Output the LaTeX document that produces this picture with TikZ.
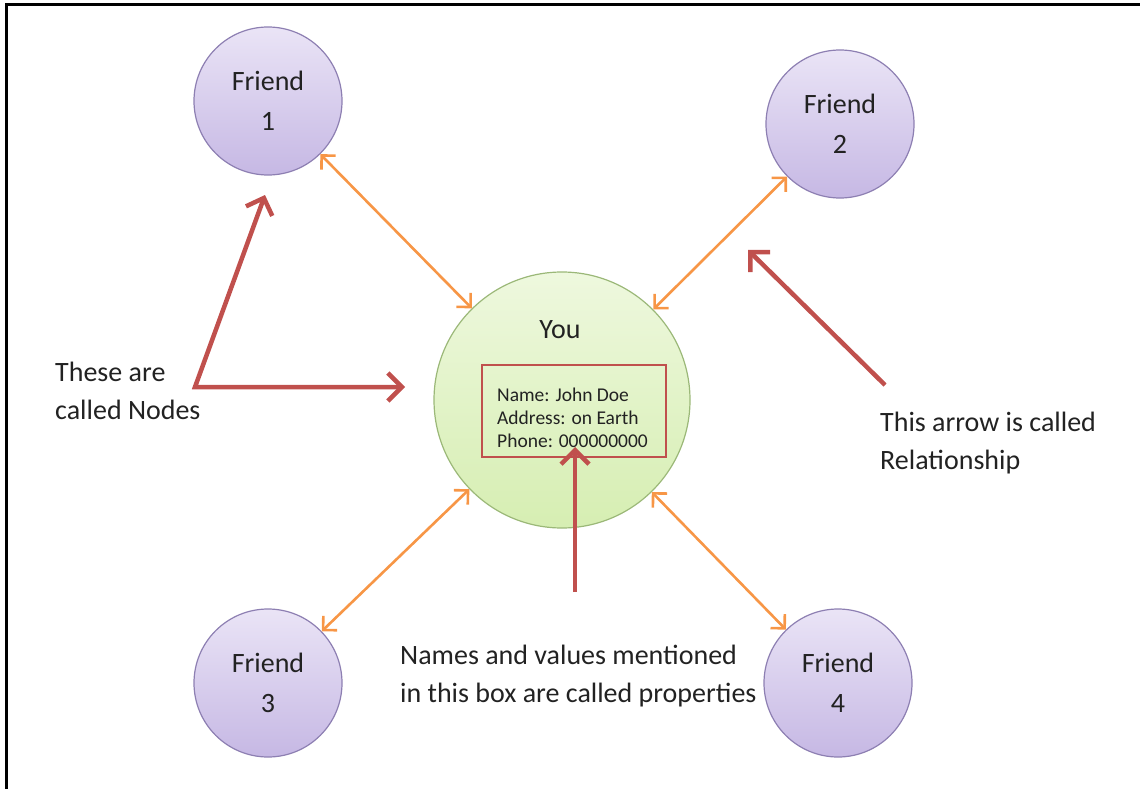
\documentclass[tikz,border=0pt]{standalone}
\usepackage{fontspec}
\setmainfont{Carlito}
\usetikzlibrary{arrows.meta}
\definecolor{friendtop}{HTML}{EAE4F6}
\definecolor{friendbot}{HTML}{C6B8E4}
\definecolor{friendline}{HTML}{8D7FB2}
\definecolor{youtop}{HTML}{EEF8DE}
\definecolor{youbot}{HTML}{D6EEB2}
\definecolor{youline}{HTML}{9BB878}
\definecolor{relcolor}{HTML}{F79646}
\definecolor{notecolor}{HTML}{C0504D}
\definecolor{inkcolor}{HTML}{222222}

\tikzset{
  friend/.style={circle,draw=friendline,line width=1.2pt,top color=friendtop,
    bottom color=friendbot,minimum size=148pt,align=center,text=inkcolor,
    font=\fontsize{28}{40}\selectfont},
  rel/.style={draw=relcolor,line width=2.6pt,
    >={Straight Barb[length=10pt,width=20pt]},<->},
  pointer/.style={draw=notecolor,line width=4.5pt,line join=miter,
    >={Straight Barb[length=14pt,width=28pt]}},
  caption/.style={anchor=north west,align=left,inner sep=0pt,text=inkcolor,
    font=\fontsize{28}{38}\selectfont}
}

\begin{document}
\begin{tikzpicture}[x=1pt,y=-1pt]
\useasboundingbox (0,0) rectangle (1140,789);
\draw[line width=3pt] (6,789) -- (6,5) -- (1140,5);

% the person and the friends
\node[circle,draw=youline,line width=1.2pt,top color=youtop,bottom color=youbot,
      minimum size=256pt] (you) at (562,400) {};
\node[text=inkcolor,font=\fontsize{28}{34}\selectfont] (youlbl) at (560,330) {You};
\node[draw=notecolor,line width=2.5pt,minimum width=184pt,minimum height=92pt]
      (propbox) at (574,411) {};
\node[anchor=west,align=left,inner sep=0pt,text=inkcolor,
      font=\fontsize{19.5}{23}\selectfont] (props) at (497,418)
      {Name: John Doe\\Address: on Earth\\Phone: 000000000};

\node[friend] (f1) at (268,101) {Friend\\1};
\node[friend] (f2) at (840,124) {Friend\\2};
\node[friend] (f3) at (268,683) {Friend\\3};
\node[friend] (f4) at (838,683) {Friend\\4};

% relationships
\foreach \f in {f1,f2,f3,f4}
  \draw[rel] (\f) -- (you);

% notes
\coordinate (nodecorner) at (195,387);
\coordinate (nodetip1) at (265,195);
\coordinate (nodetip2) at (405,387);
\coordinate (reltail) at (885,385);
\coordinate (reltip) at (748,250);
\coordinate (proptail) at (575,592);
\coordinate (proptip) at (575,447);

\draw[pointer,<->] (nodetip1) -- (nodecorner) -- (nodetip2);
\draw[pointer,->] (reltail) -- (reltip);
\draw[pointer,->] (proptail) -- (proptip);

\node[caption] (nodetxt) at (55,362) {These are\\called Nodes};
\node[caption] (reltxt) at (880,412) {This arrow is called\\Relationship};
\node[caption] (proptxt) at (400,645) {Names and values mentioned\\in this box are called properties};
\end{tikzpicture}
\end{document}
